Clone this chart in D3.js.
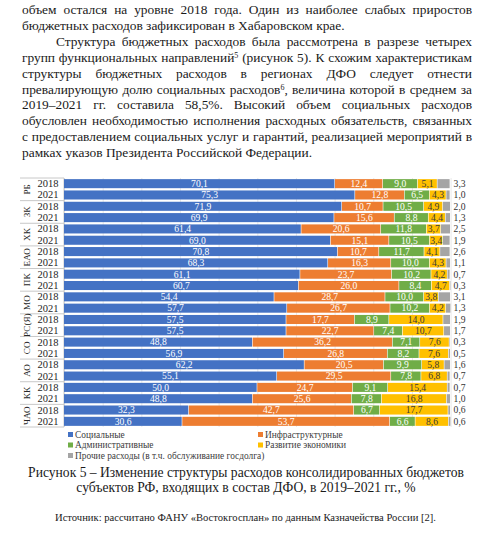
<!DOCTYPE html>
<html>
<head>
<meta charset="utf-8">
<script src="https://cdn.jsdelivr.net/npm/d3@7"></script>
<style>
  body { margin: 0; background: #fff; }
  svg { display: block; }
  svg text { font-family: "Liberation Serif", "DejaVu Serif", serif; }
</style>
</head>
<body>
<div id="chart"></div>
<script>
// data
const groups = ['РБ', 'ЗК', 'ХК', 'ЕАО', 'ПК', 'МО', 'РС(Я)', 'СО', 'АО', 'КК', 'ЧАО'];
const years = ['2018', '2021'];

const social = [70.1, 75.3, 71.9, 69.9, 61.4, 69.0, 70.8, 68.3, 61.1, 60.7, 54.4, 57.7, 57.5, 57.5, 48.8, 56.9, 62.2, 55.1, 50.0, 48.8, 32.3, 30.6];
const infra  = [12.4, 12.8, 10.7, 15.6, 20.6, 15.1, 10.7, 16.3, 23.7, 26.0, 28.7, 26.7, 17.7, 22.7, 36.2, 26.8, 20.5, 29.5, 24.7, 25.6, 42.7, 53.7];
const admin  = [9.0, 6.5, 10.5, 8.8, 11.8, 10.5, 11.7, 10.0, 10.2, 8.4, 10.0, 10.2, 8.9, 7.4, 7.1, 8.2, 9.9, 7.8, 9.1, 7.8, 6.7, 6.6];
const econ   = [5.1, 4.3, 4.9, 4.4, 3.7, 3.4, 4.1, 4.3, 4.2, 4.7, 3.8, 4.2, 14.0, 10.7, 7.6, 7.6, 5.8, 6.8, 15.4, 16.8, 17.7, 8.6];
const other  = [3.3, 1.0, 2.0, 1.3, 2.5, 1.9, 2.6, 1.1, 0.7, 0.3, 3.1, 1.3, 1.9, 1.7, 0.3, 0.5, 1.6, 0.7, 0.7, 1.0, 0.6, 0.6];

const seriesNames = ['Социальные', 'Инфраструктурные', 'Административные', 'Развитие экономики', 'Прочие расходы (в т.ч. обслуживание госдолга)'];
const gridTicks = [0, 10, 20, 30, 40, 50, 60, 70, 80, 90, 100];

const colors = ['#4472c4', '#ed7d31', '#70ad47', '#ffc000', '#a5a5a5'];
const labelColors = ['#fff', '#fff', '#fff', '#3a3a3a', '#3a3a3a'];

const paragraphs = [
  {lines: [
    [{t: 'объем остался на уровне 2018 года. Один из наиболее слабых приростов'}],
    [{t: 'бюджетных расходов зафиксирован в Хабаровском крае.'}]
  ]},
  {indent: true, lines: [
    [{t: 'Структура бюджетных расходов была рассмотрена в разрезе четырех'}],
    [{t: 'групп функциональных направлений'}, {t: '5', sup: true}, {t: ' (рисунок 5). К схожим характеристикам'}],
    [{t: 'структуры бюджетных расходов в регионах ДФО следует отнести'}],
    [{t: 'превалирующую долю социальных расходов'}, {t: '6', sup: true}, {t: ', величина которой в среднем за'}],
    [{t: '2019–2021 гг. составила 58,5%. Высокий объем социальных расходов'}],
    [{t: 'обусловлен необходимостью исполнения расходных обязательств, связанных'}],
    [{t: 'с предоставлением социальных услуг и гарантий, реализацией мероприятий в'}],
    [{t: 'рамках указов Президента Российской Федерации.'}]
  ]}
];

const W = 480, H = 535;
const serif = '"Liberation Serif", "DejaVu Serif", serif';

const rows = [];
groups.forEach((g, gi) => {
  years.forEach((yr, yi) => {
    const i = gi * 2 + yi;
    rows.push({id: g + yr, group: g, year: yr, values: [social[i], infra[i], admin[i], econ[i], other[i]]});
  });
});

const svg = d3.select('#chart').append('svg')
  .attr('width', W)
  .attr('height', H)
  .attr('font-family', serif);

svg.append('rect').attr('width', W).attr('height', H).attr('fill', '#fff');

// body text, justified
const textLeft = 22, textRight = 472, textTop = 14, lineH = 15.9;
let lineNo = 0;
paragraphs.forEach(p => {
  p.lines.forEach((segs, li) => {
    const x0 = (p.indent && li === 0) ? 56 : textLeft;
    const isLast = li === p.lines.length - 1;
    const $t = svg.append('text')
      .attr('x', x0)
      .attr('y', textTop + lineNo * lineH)
      .attr('font-size', 13.4)
      .attr('fill', '#1a1a1a');
    segs.forEach(s => {
      const $s = $t.append('tspan').text(s.t);
      if (s.sup) $s.attr('font-size', 8).attr('baseline-shift', '55%');
    });
    if (!isLast) {
      const w = $t.node().getComputedTextLength();
      const spaces = segs.map(s => s.t).join('').split(' ').length - 1;
      if (spaces > 0) $t.attr('word-spacing', (textRight - x0 - w) / spaces);
    }
    lineNo++;
  });
});

// chart
const plotTop = 178, plotBottom = 427;

const x = d3.scaleLinear()
  .domain([0, 100])
  .range([64, 450.6]);

const y = d3.scaleBand()
  .domain(rows.map(d => d.id))
  .range([plotTop, plotBottom])
  .paddingInner(0.2)
  .paddingOuter(0.1);

const $grid = svg.append('g')
  .attr('transform', `translate(0, ${plotBottom})`)
  .call(d3.axisBottom(x).tickValues(gridTicks).tickSize(-(plotBottom - plotTop)).tickFormat(''));
$grid.select('.domain').remove();
$grid.selectAll('line').attr('stroke', '#e3e3e3').attr('stroke-width', 0.8);

// category axis
svg.append('line')
  .attr('x1', x(0)).attr('x2', x(0))
  .attr('y1', plotTop).attr('y2', plotBottom)
  .attr('stroke', '#c8c8c8');

const boundaries = groups.map((g, gi) => gi === 0 ? plotTop : (y(g + '2018') + y(groups[gi - 1] + '2021') + y.bandwidth()) / 2);
boundaries.push(plotBottom);
svg.selectAll('.sep')
  .data(boundaries)
  .enter()
  .append('line')
  .attr('x1', 20).attr('x2', x(0))
  .attr('y1', d => d).attr('y2', d => d)
  .attr('stroke', '#c8c8c8');

svg.selectAll('.year')
  .data(rows)
  .enter()
  .append('text')
  .attr('x', 48)
  .attr('y', d => y(d.id) + y.bandwidth() / 2 + 3.5)
  .attr('text-anchor', 'middle')
  .attr('font-size', 10.5)
  .attr('fill', '#262626')
  .text(d => d.year);

svg.selectAll('.group')
  .data(groups)
  .enter()
  .append('text')
  .attr('transform', (g, gi) => `translate(30, ${(boundaries[gi] + boundaries[gi + 1]) / 2}) rotate(-90)`)
  .attr('text-anchor', 'middle')
  .attr('font-size', 9.2)
  .attr('fill', '#262626')
  .text(g => g);

// stacked bars
const $rows = svg.selectAll('.row')
  .data(rows)
  .enter()
  .append('g')
  .attr('transform', d => `translate(0, ${y(d.id)})`);

$rows.each(function(d) {
  const $r = d3.select(this);
  let acc = 0;
  d.values.forEach((v, k) => {
    const x0 = x(acc), x1 = x(acc + v);
    acc += v;
    $r.append('rect')
      .attr('x', x0)
      .attr('width', Math.max(0, x1 - x0 - 0.6))
      .attr('height', y.bandwidth())
      .attr('fill', colors[k]);
    const lx = k === 4 ? x(100) + 3 : (x0 + x1) / 2;
    $r.append('text')
      .attr('x', lx)
      .attr('y', y.bandwidth() / 2 + 3.3)
      .attr('text-anchor', k === 4 ? 'start' : 'middle')
      .attr('font-size', 9.6)
      .attr('fill', k === 4 ? '#333' : labelColors[k])
      .text(v.toFixed(1).replace('.', ','));
  });
});

// legend
const legendPos = [[68, 435], [258, 435], [68, 445.5], [258, 445.5], [68, 456]];
const $legend = svg.selectAll('.legend')
  .data(seriesNames)
  .enter()
  .append('g')
  .attr('transform', (d, i) => `translate(${legendPos[i][0]}, ${legendPos[i][1]})`);

$legend.append('rect')
  .attr('x', 0).attr('y', -3)
  .attr('width', 5).attr('height', 5)
  .attr('fill', (d, i) => colors[i]);

$legend.append('text')
  .attr('x', 7)
  .attr('y', 2.5)
  .attr('font-size', 9.4)
  .attr('fill', '#404040')
  .text(d => d);

// caption
svg.append('text')
  .attr('x', 246).attr('y', 477)
  .attr('text-anchor', 'middle')
  .attr('font-size', 13.6)
  .attr('fill', '#1a1a1a')
  .text('Рисунок 5 – Изменение структуры расходов консолидированных бюджетов');

svg.append('text')
  .attr('x', 246).attr('y', 491.5)
  .attr('text-anchor', 'middle')
  .attr('font-size', 13.6)
  .attr('fill', '#1a1a1a')
  .text('субъектов РФ, входящих в состав ДФО, в 2019–2021 гг., %');

svg.append('text')
  .attr('x', 55).attr('y', 521)
  .attr('font-size', 10.6)
  .attr('fill', '#1a1a1a')
  .text('Источник: рассчитано ФАНУ «Востокгосплан» по данным Казначейства России [2].');
</script>
</body>
</html>
